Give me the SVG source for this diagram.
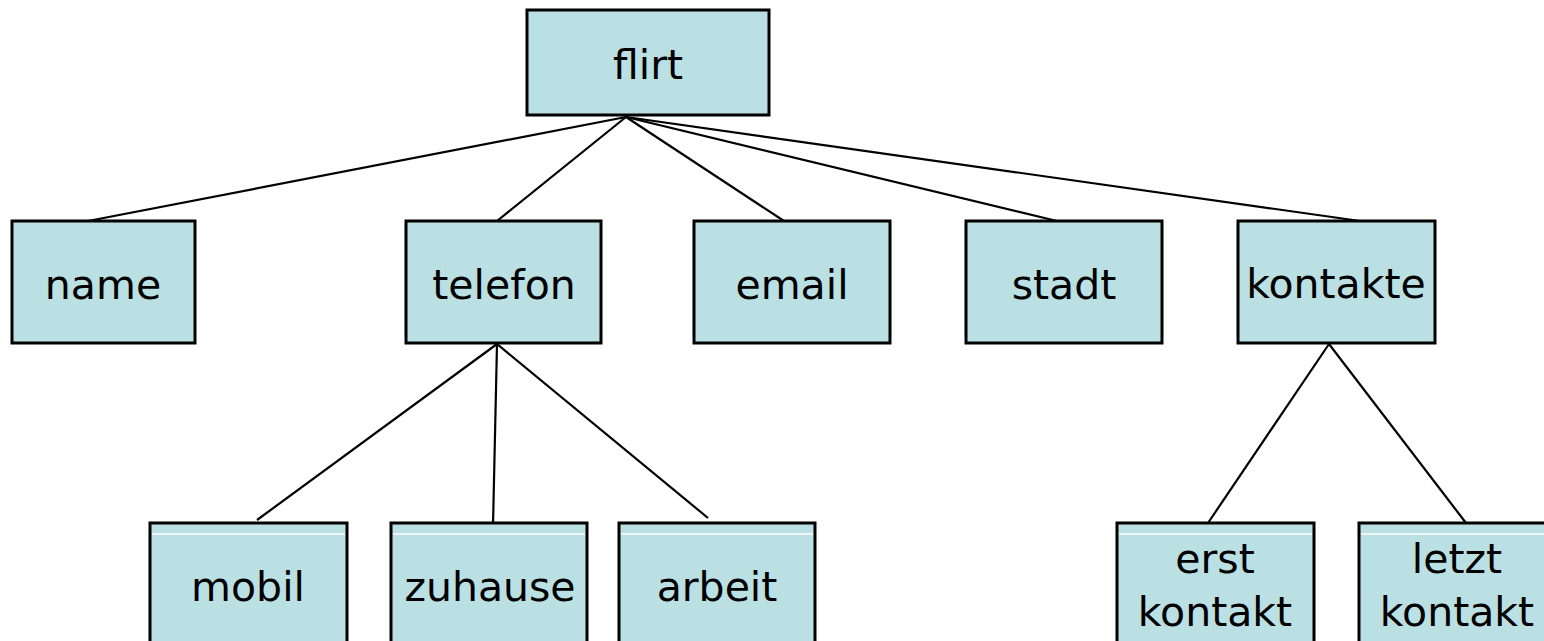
<svg xmlns="http://www.w3.org/2000/svg" width="1544" height="641" viewBox="0 0 1544 641">
<style>
.box{fill:#bae0e3;stroke:#000;stroke-width:3}
.lbl{font-family:"DejaVu Sans",Verdana,sans-serif;font-size:41px;fill:#000;text-anchor:middle}
.edge{stroke:#000;stroke-width:2.2;fill:none}
.hl{stroke:#fff;stroke-width:1.5}
</style>
<rect width="1544" height="641" fill="#fff"/>
<g id="connectors">
<line class="edge" x1="626" y1="117" x2="88" y2="221"/>
<line class="edge" x1="626" y1="117" x2="497" y2="221"/>
<line class="edge" x1="626" y1="117" x2="784" y2="221"/>
<line class="edge" x1="626" y1="117" x2="1057" y2="221"/>
<line class="edge" x1="626" y1="117" x2="1360" y2="221"/>
<line class="edge" x1="497" y1="344" x2="257" y2="520"/>
<line class="edge" x1="497" y1="344" x2="493" y2="526"/>
<line class="edge" x1="497" y1="344" x2="708" y2="518"/>
<line class="edge" x1="1329" y1="344" x2="1208" y2="523"/>
<line class="edge" x1="1329" y1="344" x2="1466" y2="523"/>
</g>
<g id="flirt"><rect class="box" x="527" y="10" width="242" height="105"/><text class="lbl" x="648" y="79">flirt</text></g>
<g id="name"><rect class="box" x="12" y="221" width="183" height="122"/><text class="lbl" x="103" y="299">name</text></g>
<g id="telefon"><rect class="box" x="406" y="221" width="195" height="122"/><text class="lbl" x="504" y="299">telefon</text></g>
<g id="email"><rect class="box" x="694" y="221" width="196" height="122"/><text class="lbl" x="792" y="299">email</text></g>
<g id="stadt"><rect class="box" x="966" y="221" width="196" height="122"/><text class="lbl" x="1064" y="299">stadt</text></g>
<g id="kontakte"><rect class="box" x="1238" y="221" width="197" height="122"/><text class="lbl" x="1336" y="298">kontakte</text></g>
<g id="mobil"><rect class="box" x="150" y="523" width="197" height="140"/><line class="hl" x1="152" y1="534" x2="345" y2="534"/><text class="lbl" x="248" y="601">mobil</text></g>
<g id="zuhause"><rect class="box" x="391" y="523" width="196" height="140"/><line class="hl" x1="393" y1="534" x2="585" y2="534"/><text class="lbl" x="490" y="601">zuhause</text></g>
<g id="arbeit"><rect class="box" x="619" y="523" width="196" height="140"/><line class="hl" x1="621" y1="534" x2="813" y2="534"/><text class="lbl" x="717" y="601">arbeit</text></g>
<g id="erst-kontakt"><rect class="box" x="1117" y="523" width="197" height="140"/><line class="hl" x1="1119" y1="534" x2="1312" y2="534"/><text class="lbl" x="1215" y="573">erst</text><text class="lbl" x="1215" y="626">kontakt</text></g>
<g id="letzt-kontakt"><rect class="box" x="1359" y="523" width="197" height="140"/><line class="hl" x1="1361" y1="534" x2="1554" y2="534"/><text class="lbl" x="1457" y="573">letzt</text><text class="lbl" x="1457" y="626">kontakt</text></g>
</svg>
